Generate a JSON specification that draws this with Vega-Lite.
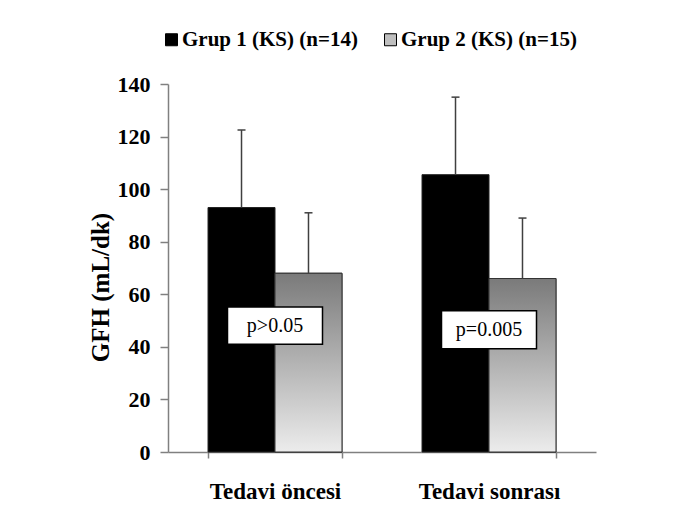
{
  "$schema": "https://vega.github.io/schema/vega-lite/v6.json",
  "width": 428,
  "height": 368,
  "autosize": {"type": "none"},
  "padding": {"left": 168, "top": 84, "right": 101, "bottom": 68},
  "background": "white",
  "config": {"view": {"stroke": null}, "font": "Liberation Serif"},
  "datasets": {
    "bars": [
      {"period": "Tedavi öncesi", "group": "Grup 1 (KS) (n=14)", "mean": 93, "upper": 122.5},
      {"period": "Tedavi öncesi", "group": "Grup 2 (KS) (n=15)", "mean": 68, "upper": 91},
      {"period": "Tedavi sonrası", "group": "Grup 1 (KS) (n=14)", "mean": 105.5, "upper": 135},
      {"period": "Tedavi sonrası", "group": "Grup 2 (KS) (n=15)", "mean": 66, "upper": 89}
    ],
    "notes": [
      {"period": "Tedavi öncesi", "label": "p>0.05", "lo": 41, "hi": 55.2, "mid": 48.1},
      {"period": "Tedavi sonrası", "label": "p=0.005", "lo": 39.3, "hi": 53.7, "mid": 46.5}
    ]
  },
  "layer": [
    {
      "data": {"name": "bars"},
      "mark": {"type": "bar", "stroke": "#222222", "strokeWidth": 1},
      "encoding": {
        "x": {
          "field": "period", "type": "nominal", "sort": null,
          "scale": {"paddingInner": 0.374, "paddingOuter": 0.187},
          "axis": {
            "title": null, "labelAngle": 0, "tickBand": "extent",
            "labelFont": "Liberation Serif", "labelFontWeight": "bold", "labelFontSize": 23,
            "labelColor": "black", "labelPadding": 22, "tickSize": 6, "labelLimit": 300,
            "domainColor": "#808080", "tickColor": "#808080", "domainWidth": 1.5, "tickWidth": 1.5
          }
        },
        "xOffset": {"field": "group", "type": "nominal", "scale": {"paddingInner": 0, "paddingOuter": 0}},
        "y": {
          "field": "mean", "type": "quantitative", "title": "GFH (mL/dk)",
          "scale": {"domain": [0, 140], "nice": false},
          "axis": {
            "title": "GFH (mL/dk)", "values": [0, 20, 40, 60, 80, 100, 120, 140], "grid": false,
            "titleFont": "Liberation Serif", "titleFontWeight": "bold", "titleFontSize": 25, "titleColor": "black",
            "titleY": 203, "titlePadding": 4,
            "labelFont": "Liberation Serif", "labelFontWeight": "bold", "labelFontSize": 22, "labelColor": "black",
            "labelPadding": 10, "tickSize": 8,
            "domainColor": "#808080", "tickColor": "#808080", "domainWidth": 1.5, "tickWidth": 1.5
          }
        },
        "color": {
          "field": "group", "type": "nominal",
          "scale": {"range": ["#000000", "#bfbfbf"]},
          "legend": {
            "title": null, "orient": "none", "legendX": -7, "legendY": -55, "direction": "horizontal",
            "symbolType": "square", "symbolSize": 144, "symbolStrokeColor": "#000000", "symbolStrokeWidth": 1,
            "labelFont": "Liberation Serif", "labelFontWeight": "bold", "labelFontSize": 21, "labelColor": "black",
            "labelOffset": 0, "columnPadding": 22, "labelLimit": 400
          }
        }
      }
    },
    {
      "data": {"name": "bars"},
      "transform": [{"filter": "datum.group === 'Grup 2 (KS) (n=15)'"}],
      "mark": {
        "type": "bar", "stroke": "#333333", "strokeWidth": 1,
        "color": {
          "gradient": "linear", "x1": 0, "y1": 0, "x2": 0, "y2": 1,
          "stops": [{"offset": 0, "color": "#7a7a7a"}, {"offset": 1, "color": "#ececec"}]
        }
      },
      "encoding": {
        "x": {"field": "period", "type": "nominal", "sort": null},
        "xOffset": {"field": "group", "type": "nominal"},
        "y": {"field": "mean", "type": "quantitative", "title": "GFH (mL/dk)"}
      }
    },
    {
      "data": {"name": "bars"},
      "mark": {"type": "rule", "color": "#404040", "strokeWidth": 1.5},
      "encoding": {
        "x": {"field": "period", "type": "nominal", "sort": null},
        "xOffset": {"field": "group", "type": "nominal"},
        "y": {"field": "mean", "type": "quantitative", "title": "GFH (mL/dk)"},
        "y2": {"field": "upper"}
      }
    },
    {
      "data": {"name": "bars"},
      "mark": {"type": "point", "shape": "stroke", "size": 64, "filled": false, "color": "#404040", "strokeWidth": 1.5, "opacity": 1},
      "encoding": {
        "x": {"field": "period", "type": "nominal", "sort": null},
        "xOffset": {"field": "group", "type": "nominal"},
        "y": {"field": "upper", "type": "quantitative", "title": "GFH (mL/dk)"}
      }
    },
    {
      "data": {"name": "notes"},
      "mark": {"type": "bar", "width": 95, "fill": "white", "stroke": "#000000", "strokeWidth": 1.5},
      "encoding": {
        "x": {"field": "period", "type": "nominal", "sort": null},
        "y": {"field": "lo", "type": "quantitative", "title": "GFH (mL/dk)"},
        "y2": {"field": "hi"}
      }
    },
    {
      "data": {"name": "notes"},
      "mark": {"type": "text", "font": "Liberation Serif", "fontSize": 20, "color": "black", "baseline": "middle"},
      "encoding": {
        "x": {"field": "period", "type": "nominal", "sort": null},
        "y": {"field": "mid", "type": "quantitative", "title": "GFH (mL/dk)"},
        "text": {"field": "label"}
      }
    }
  ]
}
